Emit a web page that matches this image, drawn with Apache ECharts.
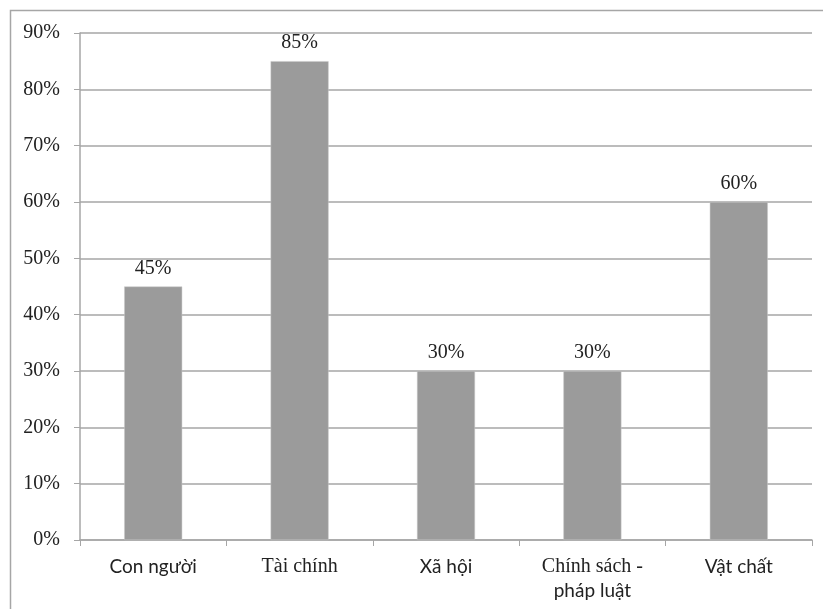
<!DOCTYPE html>
<html>
<head>
<meta charset="utf-8">
<script src="https://cdn.jsdelivr.net/npm/echarts@6/dist/echarts.min.js"></script>
<style>
  html, body { margin: 0; padding: 0; background: #ffffff; }
  #chart { width: 823px; height: 609px; }
</style>
</head>
<body>
<div id="chart"></div>
<script>
// Categories (rich-text keys pick serif or sans per fragment)
const categories = ['Con người', 'Tài chính', 'Xã hội', 'Chính sách -\npháp luật', 'Vật chất'];
const categoryLabels = [
  '{s|Con người}',
  '{r|Tài chính}',
  '{s|Xã hội}',
  '{r|Chính sách -}\n{s|pháp luật}',
  '{s|Vật chất}'
];
const values = [45, 85, 30, 30, 60];
const yTicks = [0, 10, 20, 30, 40, 50, 60, 70, 80, 90];

const chart = echarts.init(document.getElementById('chart'));
const SERIF = '"Liberation Serif", "DejaVu Serif", serif';
const SANS = 'Lato, "Open Sans", sans-serif';

chart.setOption({
  animation: false,
  backgroundColor: '#ffffff',
  graphic: [{
    type: 'rect',
    shape: { x: 10.5, y: 10.5, width: 830, height: 620 },
    style: { fill: 'none', stroke: '#a6a6a6', lineWidth: 1.5 },
    silent: true
  }],
  grid: { left: 80, right: 11, top: 33, bottom: 69, containLabel: false },
  xAxis: {
    type: 'category',
    data: categories,
    axisLine: { lineStyle: { color: '#a6a6a6', width: 1.5 } },
    axisTick: { show: true, length: 6, alignWithLabel: false, lineStyle: { color: '#a6a6a6' } },
    axisLabel: {
      margin: 15,
      interval: 0,
      color: '#222',
      formatter: function (v, i) { return categoryLabels[i]; },
      rich: {
        s: { fontFamily: SANS, fontSize: 19, color: '#222', lineHeight: 24 },
        r: { fontFamily: SERIF, fontSize: 20, color: '#222', lineHeight: 24 }
      }
    }
  },
  yAxis: {
    type: 'value',
    min: yTicks[0],
    max: yTicks[yTicks.length - 1],
    interval: 10,
    axisLine: { show: true, lineStyle: { color: '#a6a6a6', width: 1.5 } },
    axisTick: { show: true, length: 6, lineStyle: { color: '#a6a6a6' } },
    splitLine: { show: true, lineStyle: { color: '#a6a6a6', width: 1.5 } },
    axisLabel: {
      margin: 20,
      fontFamily: SERIF,
      fontSize: 20,
      color: '#222',
      formatter: '{value}%'
    }
  },
  series: [{
    type: 'bar',
    data: values,
    barWidth: 58,
    itemStyle: { color: '#9b9b9b', borderColor: '#c8c8c8', borderWidth: 0.5 },
    label: {
      show: true,
      position: 'top',
      distance: 8,
      fontFamily: SERIF,
      fontSize: 20,
      color: '#222',
      formatter: '{c}%'
    }
  }]
});
</script>
</body>
</html>
